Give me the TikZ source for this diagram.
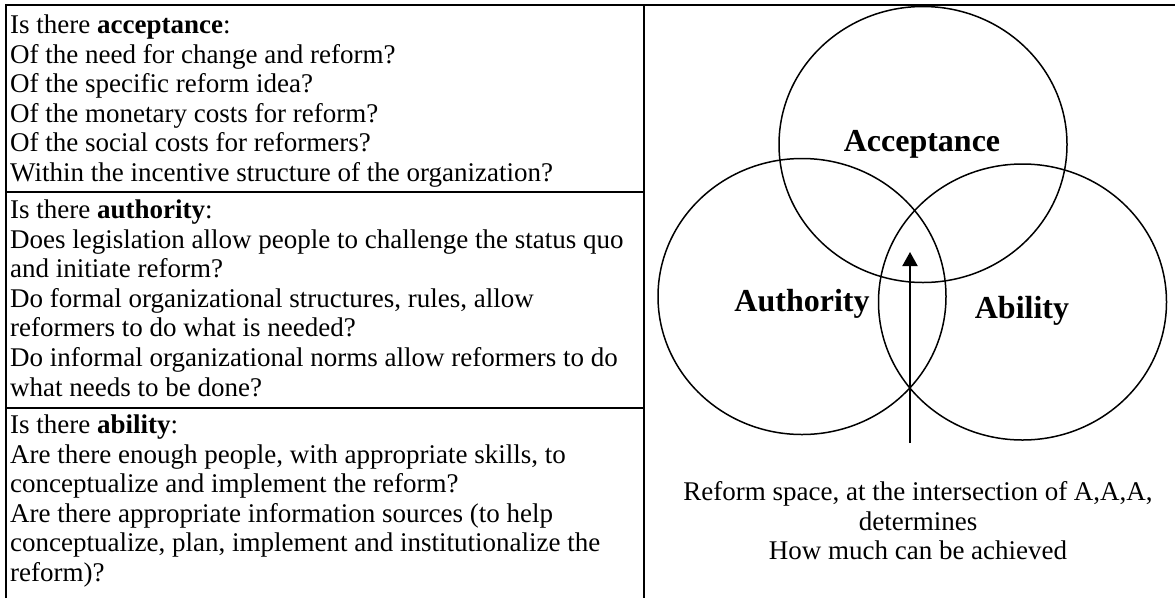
\documentclass[tikz,border=0pt]{standalone}
\usepackage{fontspec}
\setmainfont{Liberation Serif}
\usetikzlibrary{positioning,arrows.meta,shapes.geometric}
\tikzset{
  cell/.style={anchor=north west, align=left, inner sep=0pt,
               font=\fontsize{27}{29.6}\selectfont},
  tabline/.style={line width=2pt},
  ring/.style={draw, ellipse, line width=1.5pt, inner sep=0pt,
               minimum width=288pt, minimum height=276pt},
  ringlbl/.style={anchor=base, inner sep=0pt,
                  font=\fontsize{32}{36}\selectfont\bfseries},
  flow/.style={-{Triangle[width=15pt,length=14pt]}, line width=2pt},
  caption/.style={anchor=north, align=center, inner sep=0pt,
                  font=\fontsize{27}{29.5}\selectfont},
}

\begin{document}
\begin{tikzpicture}[x=1pt, y=-1pt]
\useasboundingbox (0,0) rectangle (1175,598);

%% ── table frame: no right or bottom edge ──────────────────────────────
\draw[tabline] (6,598) -- (6,5) -- (1175,5);
\draw[tabline] (644,5) -- (644,598);
\draw[tabline] (6,192) -- (644,192);
\draw[tabline] (6,408) -- (644,408);

%% ── the three question cells ──────────────────────────────────────────
\node[cell] (accCell) at (10,14.6)
  {Is there \textbf{acceptance}:\\
   Of the need for change and reform?\\
   Of the specific reform idea?\\
   Of the monetary costs for reform?\\
   Of the social costs for reformers?\\
   Within the incentive structure of the organization?};
\node[cell] (authCell) at (10,199.6)
  {Is there \textbf{authority}:\\
   Does legislation allow people to challenge the status quo\\
   and initiate reform?\\
   Do formal organizational structures, rules, allow\\
   reformers to do what is needed?\\
   Do informal organizational norms allow reformers to do\\
   what needs to be done?};
\node[cell] (abilCell) at (10,414.6)
  {Is there \textbf{ability}:\\
   Are there enough people, with appropriate skills, to\\
   conceptualize and implement the reform?\\
   Are there appropriate information sources (to help\\
   conceptualize, plan, implement and institutionalize the\\
   reform)?};

%% ── the three A's ─────────────────────────────────────────────────────
\node[ring] (acc)  at (923,144.5) {};
\node[ring] (auth) at (802,296.5) {};
\node[ring] (abil) at (1022.5,302) {};

\node[ringlbl] (accLbl)  at (922,151)  {Acceptance};
\node[ringlbl] (authLbl) at (802,311)  {Authority};
\node[ringlbl] (abilLbl) at (1022,318) {Ability};

%% ── reform space arrow and its caption ────────────────────────────────
\coordinate (spaceBot) at (910,443);
\coordinate (spaceTop) at (910,252);
\draw[flow] (spaceBot) -- (spaceTop);

\node[caption] (spaceCap) at (918,481.6)
  {Reform space, at the intersection of A,A,A,\\
   determines\\
   How much can be achieved};

\end{tikzpicture}
\end{document}
